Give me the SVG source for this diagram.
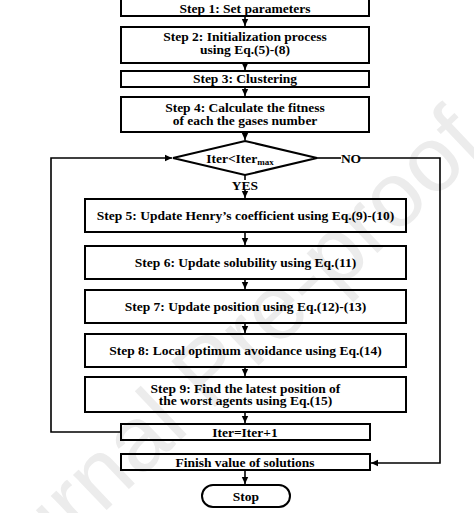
<svg xmlns="http://www.w3.org/2000/svg" width="474" height="513" viewBox="0 0 474 513">
<defs>
<marker id="ah" markerWidth="8" markerHeight="8" refX="7" refY="4" orient="auto" markerUnits="userSpaceOnUse">
<path d="M0,0.8 L7,4 L0,7.2 Z" fill="#000"/>
</marker>
<style>
.box{fill:none;stroke:#000;stroke-width:2}
.ln{fill:none;stroke:#000;stroke-width:1.6}
.t{font-family:"Liberation Serif","Times New Roman",serif;font-weight:bold;font-size:13.5px;fill:#000;text-anchor:middle}
.wm{font-family:"Liberation Sans",Arial,sans-serif;font-size:92px;fill:#ececec;text-anchor:middle}
</style>
</defs>
<rect width="474" height="513" fill="#fff"/>
<text class="wm" transform="translate(230,393) rotate(-43.5)">Journal Pre-proof</text>
<g id="connectors">
<line class="ln" x1="245" y1="17" x2="245" y2="26" marker-end="url(#ah)"/>
<line class="ln" x1="245" y1="63" x2="245" y2="70" marker-end="url(#ah)"/>
<line class="ln" x1="245" y1="87" x2="245" y2="96" marker-end="url(#ah)"/>
<line class="ln" x1="245" y1="132" x2="245" y2="140" marker-end="url(#ah)"/>
<line class="ln" x1="245" y1="175" x2="245" y2="180"/>
<line class="ln" x1="245" y1="190" x2="245" y2="198" marker-end="url(#ah)"/>
<line class="ln" x1="245" y1="232" x2="245" y2="245" marker-end="url(#ah)"/>
<line class="ln" x1="245" y1="279" x2="245" y2="289" marker-end="url(#ah)"/>
<line class="ln" x1="245" y1="323" x2="245" y2="333" marker-end="url(#ah)"/>
<line class="ln" x1="245" y1="367" x2="245" y2="376" marker-end="url(#ah)"/>
<line class="ln" x1="245" y1="412" x2="245" y2="423" marker-end="url(#ah)"/>
<line class="ln" x1="245" y1="470" x2="245" y2="484" marker-end="url(#ah)"/>
<polyline class="ln" points="121,432 51,432 51,158 172,158" marker-end="url(#ah)"/>
<line class="ln" x1="317" y1="158" x2="341" y2="158"/>
<polyline class="ln" points="360,158 440,158 440,463 371,463" marker-end="url(#ah)"/>
<text class="t" x="351" y="163">NO</text>
<text class="t" x="245" y="189.5">YES</text>
</g>
<g id="step1"><rect class="box" x="121" y="-2" width="248" height="18"/><text class="t" x="245" y="12.5">Step 1: Set parameters</text></g>
<g id="step2"><rect class="box" x="121" y="27" width="248" height="36"/><text class="t" x="245" y="41">Step 2: Initialization process</text><text class="t" x="245" y="53.5">using Eq.(5)-(8)</text></g>
<g id="step3"><rect class="box" x="121" y="71" width="248" height="16"/><text class="t" x="245" y="83">Step 3: Clustering</text></g>
<g id="step4"><rect class="box" x="121" y="97" width="248" height="35"/><text class="t" x="245" y="112">Step 4: Calculate the fitness</text><text class="t" x="245" y="124.5">of each the gases number</text></g>
<g id="decision"><polygon class="box" points="245,141 317,158 245,175 173,158"/><text class="t" x="240" y="163">Iter&lt;Iter<tspan font-size="9" dy="2">max</tspan></text></g>
<g id="step5"><rect class="box" x="85" y="199" width="321" height="33"/><text class="t" x="245.5" y="220">Step 5: Update Henry’s coefficient using Eq.(9)-(10)</text></g>
<g id="step6"><rect class="box" x="85" y="246" width="321" height="33"/><text class="t" x="245.5" y="267">Step 6: Update solubility using Eq.(11)</text></g>
<g id="step7"><rect class="box" x="85" y="290" width="321" height="33"/><text class="t" x="245.5" y="311">Step 7: Update position using Eq.(12)-(13)</text></g>
<g id="step8"><rect class="box" x="85" y="334" width="321" height="33"/><text class="t" x="245.5" y="355">Step 8: Local optimum avoidance using Eq.(14)</text></g>
<g id="step9"><rect class="box" x="85" y="377" width="321" height="35"/><text class="t" x="245.5" y="393">Step 9: Find the latest position of</text><text class="t" x="245.5" y="405">the worst agents using Eq.(15)</text></g>
<g id="iter"><rect class="box" x="121" y="424" width="249" height="16"/><text class="t" x="245" y="436.5">Iter=Iter+1</text></g>
<g id="finish"><rect class="box" x="121" y="454" width="249" height="16"/><text class="t" x="245" y="466.5">Finish value of solutions</text></g>
<g id="stop"><rect class="box" x="202" y="485" width="88" height="22" rx="11"/><text class="t" x="246" y="500.5">Stop</text></g>
</svg>
